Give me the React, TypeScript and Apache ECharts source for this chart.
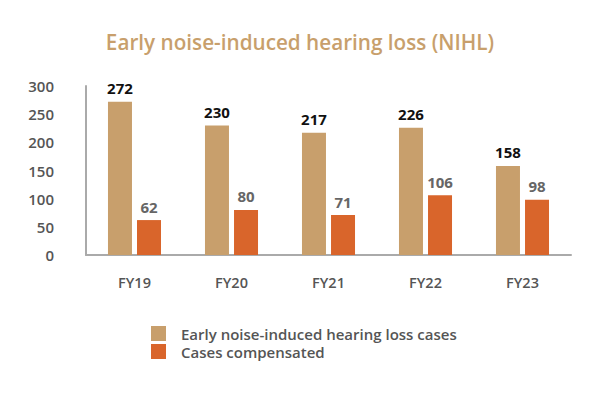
import React, { useEffect, useRef } from "react";
import * as echarts from "echarts";

const categories = ["FY19", "FY20", "FY21", "FY22", "FY23"];
const nihlCases = [272, 230, 217, 226, 158];
const compensated = [62, 80, 71, 106, 98];
const seriesNames = ["Early noise-induced hearing loss cases", "Cases compensated"];
const yTicks = [0, 50, 100, 150, 200, 250, 300];

const GOLD = "#C89F6C";
const ORANGE = "#D9652B";
const FONT = "'Open Sans', 'Noto Sans', sans-serif";

export default function App() {
  const ref = useRef<HTMLDivElement>(null);
  useEffect(() => {
    if (!ref.current) return;
    const chart = echarts.init(ref.current, null, { renderer: "svg" });
    chart.setOption({
      animation: false,
      backgroundColor: "#ffffff",
      title: {
        text: "Early noise-induced hearing loss (NIHL)",
        left: "center",
        top: 26,
        textStyle: { color: GOLD, fontSize: 20.7, fontWeight: 600, fontFamily: FONT },
      },
      legend: {
        orient: "vertical",
        left: 146,
        top: 321,
        itemWidth: 15,
        itemHeight: 15,
        itemGap: 3,
        icon: "rect",
        data: seriesNames,
        textStyle: { color: "#555", fontSize: 15, fontWeight: 600, fontFamily: FONT, padding: [0, 0, 0, 10] },
      },
      grid: { left: 86, right: 29, top: 86, bottom: 145, containLabel: false },
      xAxis: {
        type: "category",
        data: categories,
        axisLine: { show: true, lineStyle: { color: "#aaa", width: 2 } },
        axisTick: { show: false },
        axisLabel: { color: "#555", fontSize: 14.5, fontWeight: 600, fontFamily: FONT, margin: 20 },
      },
      yAxis: {
        type: "value",
        min: yTicks[0],
        max: yTicks[yTicks.length - 1],
        interval: 50,
        axisLine: { show: true, lineStyle: { color: "#aaa", width: 2 } },
        axisTick: { show: false },
        splitLine: { show: false },
        axisLabel: {
          color: "#555",
          fontSize: 15,
          fontWeight: 600,
          fontFamily: FONT,
          margin: 32,
          padding: [12, 0, 0, 0],
        },
      },
      series: [
        {
          name: seriesNames[0],
          type: "bar",
          data: nihlCases,
          barWidth: 24,
          barGap: "21%",
          itemStyle: { color: GOLD },
          label: {
            show: true,
            position: "top",
            distance: 6,
            color: "#111",
            fontSize: 15,
            fontWeight: "bold",
            fontFamily: FONT,
          },
        },
        {
          name: seriesNames[1],
          type: "bar",
          data: compensated,
          barWidth: 24,
          itemStyle: { color: ORANGE },
          label: {
            show: true,
            position: "top",
            distance: 6,
            color: "#666",
            fontSize: 15,
            fontWeight: "bold",
            fontFamily: FONT,
          },
        },
      ],
    });
    return () => chart.dispose();
  }, []);
  return (
    <div
      ref={ref}
      style={{ position: "fixed", left: 0, top: 0, width: 600, height: 400 }}
    />
  );
}
